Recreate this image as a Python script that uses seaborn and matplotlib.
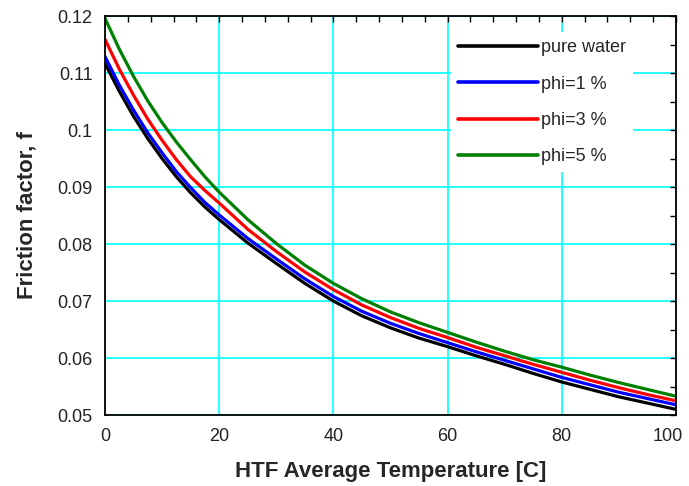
import seaborn as sns
import pandas as pd
import matplotlib.pyplot as plt
import matplotlib.transforms as mtransforms
from matplotlib.ticker import MultipleLocator, FormatStrFormatter

# values
temps = [0, 2.5, 5, 7.5, 10, 12.5, 15, 17.5, 20, 25, 30, 35, 40, 45, 50,
         55, 60, 65, 70, 75, 80, 85, 90, 95, 100]
f_water = [0.1117, 0.1068, 0.1024, 0.0985, 0.0950, 0.0918, 0.0890, 0.0865, 0.0843,
           0.0802, 0.0766, 0.0731, 0.0700, 0.0674, 0.0653, 0.0635, 0.0620, 0.0604,
           0.0589, 0.0573, 0.0558, 0.0545, 0.0532, 0.0521, 0.0510]
f_phi1 = [0.1129, 0.1079, 0.1035, 0.0995, 0.0960, 0.0927, 0.0899, 0.0873, 0.0851,
          0.0810, 0.0774, 0.0739, 0.0708, 0.0682, 0.0661, 0.0643, 0.0627, 0.0611,
          0.0596, 0.0581, 0.0566, 0.0553, 0.0540, 0.0529, 0.0518]
f_phi3 = [0.1159, 0.1107, 0.1061, 0.1019, 0.0982, 0.0948, 0.0918, 0.0894, 0.0872,
          0.0826, 0.0787, 0.0751, 0.0720, 0.0693, 0.0671, 0.0652, 0.0636, 0.0619,
          0.0604, 0.0589, 0.0575, 0.0561, 0.0548, 0.0536, 0.0525]
f_phi5 = [0.1196, 0.1142, 0.1094, 0.1051, 0.1013, 0.0979, 0.0948, 0.0918, 0.0891,
          0.0843, 0.0801, 0.0763, 0.0731, 0.0704, 0.0681, 0.0662, 0.0645, 0.0628,
          0.0612, 0.0597, 0.0584, 0.0570, 0.0557, 0.0545, 0.0533]

names = ["pure water", "phi=1 %", "phi=3 %", "phi=5 %"]
colors = ["#000000", "#0000FF", "#FF0000", "#008000"]

sns.set_theme(style="white")
plt.rcParams['font.family'] = ['Liberation Sans', 'DejaVu Sans']

fig = plt.figure(figsize=(6.89, 4.86), dpi=100)
ax = fig.add_axes([0.1524, 0.146, 0.8286, 0.821])

for name, vals, c in zip(names, [f_water, f_phi1, f_phi3, f_phi5], colors):
    df = pd.DataFrame({"T": temps, "f": vals})
    sns.lineplot(data=df, x="T", y="f", color=c, linewidth=2.3, label=name, ax=ax)

ax.set_xlim(0, 100)
ax.set_ylim(0.05, 0.12)
ax.xaxis.set_major_locator(MultipleLocator(20))
ax.xaxis.set_minor_locator(MultipleLocator(4))
ax.yaxis.set_major_locator(MultipleLocator(0.01))
ax.yaxis.set_minor_locator(MultipleLocator(0.005))
ax.yaxis.set_major_formatter(FormatStrFormatter('%g'))

ax.grid(True, which='major', color='#00FFFF', linewidth=1.2)
ax.set_axisbelow(True)
for s in ax.spines.values():
    s.set_color('black')
    s.set_linewidth(1.3)
    s.set_zorder(5)

ax.tick_params(which='both', direction='in', top=True, right=True,
               length=4, width=1, color='black')
ax.tick_params(axis='x', labelsize=13, pad=9, labelcolor='#222222')
ax.tick_params(axis='y', labelsize=13, pad=9, labelcolor='#222222')

ax.set_xlabel("HTF Average Temperature [C]", fontsize=16, fontweight='bold', labelpad=12)
ax.set_ylabel("Friction factor, f", fontsize=16, fontweight='bold', labelpad=14)

leg = ax.legend(loc='upper left', bbox_to_anchor=(0.590, 0.9825), fontsize=13,
                frameon=True, fancybox=False, framealpha=1, edgecolor='none',
                facecolor='white', handlelength=4.4, handletextpad=0.2,
                labelspacing=1.07, borderpad=0.4)
for line in leg.get_lines():
    line.set_linewidth(2.6)

# pull the "100" label a little inside the figure, as in the reference
fig.canvas.draw()
shift = mtransforms.ScaledTranslation(-6 / 72, 0, fig.dpi_scale_trans)
for t in ax.xaxis.get_major_ticks():
    if abs(t.get_loc() - 100) < 1e-6:
        t.label1.set_transform(t.label1.get_transform() + shift)

fig.savefig("out.png", dpi=100)
